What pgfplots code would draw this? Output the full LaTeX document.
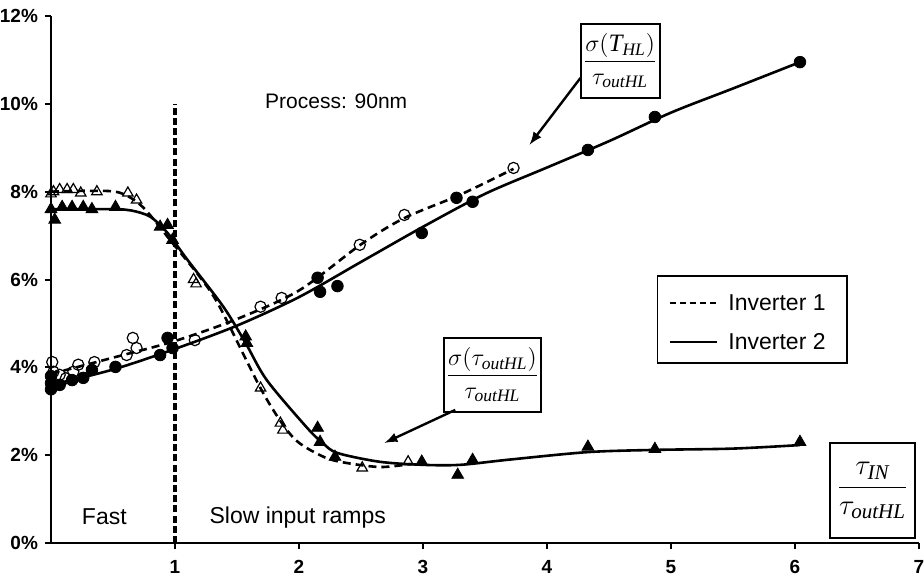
\documentclass[border=0pt]{standalone}
\usepackage{amsmath}
\usepackage{fontspec}
\setmainfont{Liberation Sans}
\newfontfamily\tms{Liberation Serif}
\usepackage{pgfplots}
\pgfplotsset{compat=1.18}
\newcommand{\ti}[1]{\text{\tms\itshape #1}}

\begin{document}
\begin{tikzpicture}
\useasboundingbox (-25.5pt,-18.5pt) rectangle (436.5pt,271.5pt);
\begin{axis}[
    at={(0,0)}, anchor=south west,
    width=434pt, height=263.5pt, scale only axis,
    xmin=0, xmax=7, ymin=0, ymax=12,
    axis lines=left,
    axis line style={-, line width=1.1pt},
    xtick={1,2,3,4,5,6,7},
    xticklabels={1,2,3,4,5,6,7},
    ytick={0,2,4,6,8,10,12},
    yticklabels={0\%,2\%,4\%,6\%,8\%,10\%,12\%},
    tick align=outside,
    major tick length=3pt,
    tick style={black, line width=1pt},
    ticklabel style={font=\fontsize{9.5}{10}\selectfont\bfseries},
    xticklabel style={yshift=-2pt},
    clip=false,
]

% ---- Inverter 1 (dashed), triangles
\addplot[black, line width=1.3pt, dash pattern=on 4pt off 2.5pt, smooth] coordinates {
(0,8.0) (0.3,8.02) (0.55,7.98) (0.74,7.65) (0.98,6.83) (1.2,6.06) (1.36,5.38)
(1.71,3.42) (1.95,2.41) (2.17,2.0) (2.33,1.85) (2.65,1.73) (2.9,1.8)
};
% ---- Inverter 2 (solid), triangles
\addplot[black, line width=1.3pt, smooth] coordinates {
(0,7.6) (0.5,7.6) (0.65,7.57) (0.8,7.43) (0.94,7.06) (1.1,6.45) (1.39,5.38)
(1.57,4.55) (1.74,3.71) (2.06,2.64) (2.19,2.28) (2.31,2.05) (2.65,1.85)
(3.0,1.78) (3.3,1.78) (3.7,1.9) (4.33,2.07) (4.87,2.12) (5.5,2.15) (6.04,2.23)
};
% ---- Inverter 1 (dashed), circles
\addplot[black, line width=1.3pt, dash pattern=on 4pt off 2.5pt, smooth] coordinates {
(0,3.85) (0.5,4.22) (1.0,4.6) (1.5,5.1) (2.0,5.75) (2.5,6.8) (2.85,7.4)
(3.3,7.93) (3.73,8.52)
};
% ---- Inverter 2 (solid), circles
\addplot[black, line width=1.3pt, smooth] coordinates {
(0,3.6) (0.5,3.95) (1.0,4.42) (1.5,4.95) (2.0,5.6) (2.5,6.4) (3.0,7.2)
(3.5,7.95) (4.0,8.55) (4.5,9.15) (5.0,9.8) (5.5,10.35) (6.04,10.95)
};

% markers
\addplot[only marks, mark=triangle, mark size=3pt, mark options={black, line width=0.6pt}] coordinates {
(0.00,7.95) (0.02,8.0) (0.07,8.05) (0.13,8.05) (0.18,8.05) (0.24,7.97) (0.37,8.0)
(0.62,7.97) (0.69,7.81) (1.15,6.0) (1.17,5.9) (1.69,3.53) (1.85,2.73) (1.87,2.57)
(2.51,1.71) (2.88,1.85)
};
\addplot[only marks, mark=triangle*, mark size=3.4pt, mark options={black}] coordinates {
(0.0,7.6) (0.03,7.36) (0.09,7.65) (0.17,7.65) (0.26,7.65) (0.33,7.6) (0.52,7.65)
(0.88,7.2) (0.94,7.24) (0.98,6.9) (1.57,4.7) (1.58,4.55) (2.15,2.62) (2.17,2.30)
(2.29,1.96) (2.99,1.85) (3.28,1.55) (3.40,1.89) (4.33,2.19) (4.87,2.14) (6.04,2.30)
};
\addplot[only marks, mark=o, mark size=2.8pt, mark options={black, line width=0.6pt}] coordinates {
(0.01,4.12) (0.02,3.9) (0.07,3.83) (0.12,3.75) (0.18,3.90) (0.22,4.06) (0.35,4.12)
(0.61,4.28) (0.66,4.67) (0.69,4.44) (1.16,4.62) (1.69,5.38) (1.86,5.58)
(2.49,6.79) (2.85,7.47) (3.73,8.54)
};
\addplot[only marks, mark=*, mark size=2.9pt, mark options={black}] coordinates {
(0.0,3.64) (0.0,3.5) (0.0,3.8) (0.07,3.60) (0.17,3.71) (0.26,3.76) (0.33,3.94)
(0.52,4.01) (0.88,4.28) (0.94,4.67) (0.98,4.44) (2.15,6.04) (2.17,5.72)
(2.31,5.85) (2.99,7.06) (3.27,7.86) (3.40,7.77) (4.33,8.95) (4.87,9.70) (6.04,10.95)
};

% vertical separator
\draw[black, line width=1.7pt, dash pattern=on 3.5pt off 1.6pt] (axis cs:1,0) -- (axis cs:1,10);

% texts
\node[font=\fontsize{10.5}{12}\selectfont] at (axis cs:2.3,10.05) {Process: 90nm};
\node[font=\fontsize{11.5}{12}\selectfont] at (axis cs:0.43,0.59) {Fast};
\node[font=\fontsize{11.5}{12}\selectfont] at (axis cs:1.99,0.59) {Slow input ramps};

% annotation boxes and arrows
\node[draw, line width=1pt, fill=white, minimum width=39.5pt, minimum height=37pt, inner sep=1pt,
      font=\fontsize{12.5}{14}\selectfont] at (axis cs:4.59,10.98)
      {$\dfrac{\sigma\mathopen{}\left(\ti{T}_{\ti{HL}}\right)}{\tau_{\ti{outHL}}}$};
\draw[-latex, line width=1.2pt] (axis cs:4.27,10.59) -- (axis cs:3.86,9.07);

\node[draw, line width=1pt, fill=white, minimum width=40.5pt, minimum height=37pt, inner sep=1pt,
      font=\fontsize{12.5}{14}\selectfont] at (axis cs:3.56,3.83)
      {$\dfrac{\sigma\mathopen{}\left(\tau_{\ti{outHL}}\right)}{\tau_{\ti{outHL}}}$};
\draw[-latex, line width=1.2pt] (axis cs:3.26,3.03) -- (axis cs:2.69,2.28);

\node[draw, line width=1pt, fill=white, minimum width=42.5pt, minimum height=47.5pt, inner sep=1pt,
      font=\fontsize{15}{17}\selectfont] at (axis cs:6.625,1.195)
      {$\dfrac{\tau_{\ti{IN}}}{\tau_{\ti{outHL}}}$};

% legend
\draw[line width=0.8pt, fill=white] (axis cs:4.89,6.08) rectangle (axis cs:6.42,4.10);
\draw[line width=1.25pt, dash pattern=on 3pt off 2pt] (axis cs:4.99,5.47) -- (axis cs:5.37,5.47);
\draw[line width=1.25pt] (axis cs:4.99,4.58) -- (axis cs:5.37,4.58);
\node[anchor=west, font=\fontsize{11.5}{12}\selectfont, inner sep=0pt] at (axis cs:5.46,5.47) {Inverter 1};
\node[anchor=west, font=\fontsize{11.5}{12}\selectfont, inner sep=0pt] at (axis cs:5.46,4.58) {Inverter 2};
\end{axis}
\end{tikzpicture}
\end{document}
